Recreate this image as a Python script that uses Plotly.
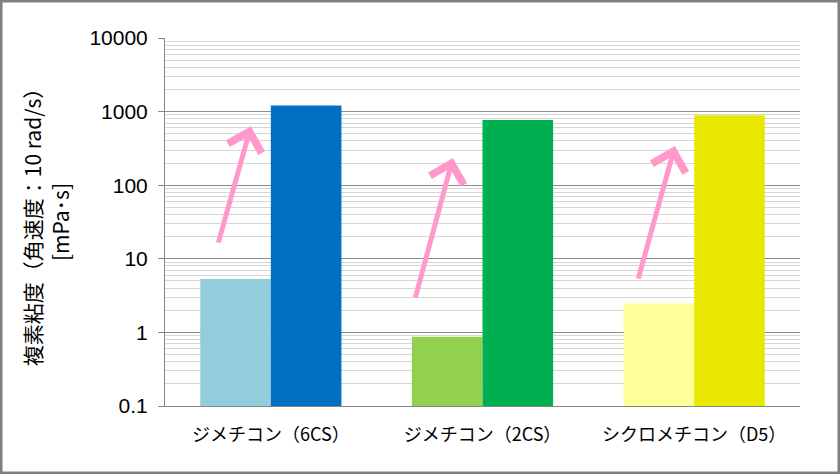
import plotly.graph_objects as go

# 試料名
categories = ["ジメチコン（6CS）", "ジメチコン（2CS）", "シクロメチコン（D5）"]

# 複素粘度 [mPa·s]
before_vals = [5.3, 0.87, 2.48]
after_vals = [1210, 770, 895]

before_colors = ["#92CDDC", "#92D050", "#FFFF99"]
after_colors = ["#0070C0", "#00B050", "#E8E800"]

y_tickvals = [0.1, 1, 10, 100, 1000, 10000]
y_ticktext = ["0.1", "1", "10", "100", "1000", "10000"]

# 矢印 (始点 x, 始点 log10(y), 終点 x, 終点 log10(y))
arrows = [
    (-0.250, 1.20, -0.094, 2.80),
    (0.681, 0.452, 0.860, 2.368),
    (1.734, 0.711, 1.909, 2.531),
]

font_family = "Liberation Sans, Noto Sans CJK JP, sans-serif"

fig = go.Figure()
fig.add_trace(go.Bar(x=categories, y=before_vals, marker_color=before_colors,
                     marker_line_width=0, showlegend=False))
fig.add_trace(go.Bar(x=categories, y=after_vals, marker_color=after_colors,
                     marker_line_width=0, showlegend=False))

for ax, ay, hx, hy in arrows:
    fig.add_annotation(
        x=hx, y=hy, ax=ax, ay=ay,
        xref="x", yref="y", axref="x", ayref="y",
        showarrow=True, arrowhead=4, arrowsize=1.35, arrowwidth=5,
        arrowcolor="#FF99CC", standoff=0, text="",
    )

# 外枠
fig.add_shape(
    type="rect", xref="paper", yref="paper",
    x0=-164 / 635, x1=1 + 39 / 635, y0=-67 / 368, y1=1 + 37 / 368,
    line=dict(color="#808080", width=3), fillcolor="rgba(0,0,0,0)", layer="above",
)

fig.update_layout(
    width=840, height=474,
    margin=dict(l=165, r=40, t=38, b=68),
    barmode="group", bargap=0.333, bargroupgap=0,
    plot_bgcolor="white", paper_bgcolor="white",
    font=dict(family=font_family, size=19, color="#000000"),
)

fig.update_xaxes(
    showline=True, linecolor="#868686", linewidth=1,
    tickfont=dict(family="Noto Sans CJK JP", size=18),
    ticks="", ticklabelstandoff=12, range=[-0.5, 2.5],
)

fig.update_yaxes(
    type="log", range=[-1, 4],
    tickvals=y_tickvals, ticktext=y_ticktext,
    tickfont=dict(family="Liberation Sans", size=21),
    ticks="outside", ticklen=6, tickcolor="#868686",
    ticklabelstandoff=6,
    showline=True, linecolor="#868686", linewidth=1,
    showgrid=True, gridcolor="#8C8C8C", gridwidth=1,
    minor=dict(showgrid=True, gridcolor="#D6D6D6", gridwidth=1, dtick="D1", ticks=""),
    zeroline=False,
    title=dict(text="複素粘度（角速度：10 rad/s）<br>[mPa･s]",
               font=dict(family="Noto Sans CJK JP", size=21), standoff=14),
)

# ページ余白をなくす
fig.write_html("out.html", config={"displayModeBar": False},
               post_script="document.body.style.margin='0';")
